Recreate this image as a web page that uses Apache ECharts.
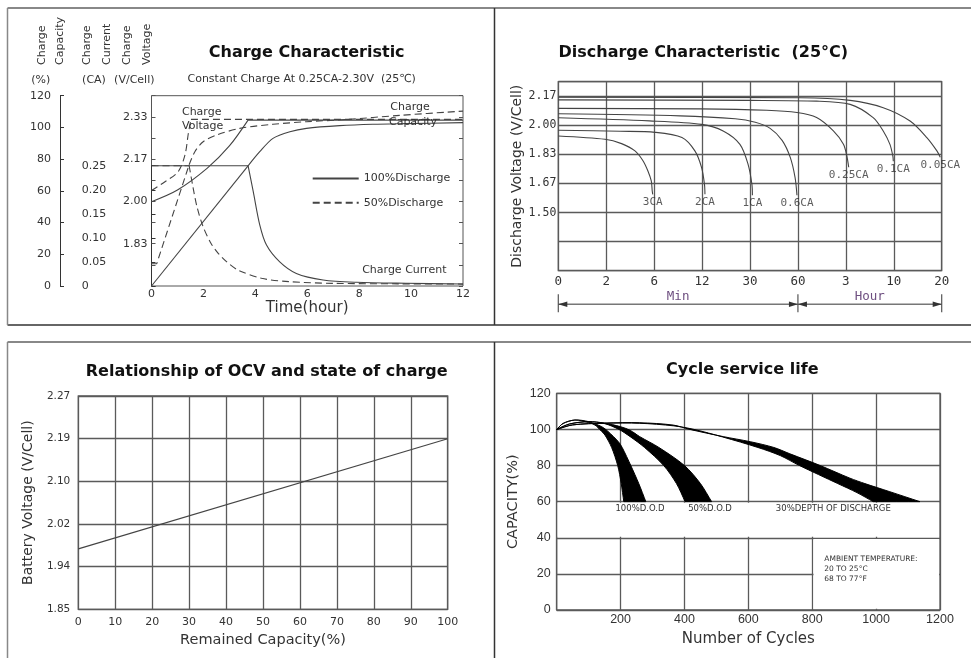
<!DOCTYPE html>
<html><head><meta charset="utf-8">
<script src="https://cdn.jsdelivr.net/npm/echarts@6/dist/echarts.min.js"></script>
<style>html,body{margin:0;padding:0;background:#fff}#c{width:971px;height:658px}</style>
</head><body><div id="c"></div>
<script>
// ---------- Charge characteristic (x: hours) ----------
const chargeVoltTickLabels = ['', '', '1.83', '', '2.00', '', '2.17', '', '2.33', ''];
const chargeVolt100 = [[0,1.999],[1.0,2.046],[2.15,2.134],[3.0,2.223],[3.72,2.327]];
const chargeVolt100Hold = [[3.72,2.327],[12,2.327]];
const chargeVolt50 = [[0,2.044],[0.52,2.079],[1.03,2.12],[1.29,2.187],[1.42,2.274],[1.52,2.33]];
const chargeVolt50Hold = [[1.52,2.33],[12,2.33]];
const chargeCap100Ramp = [[0,0],[3.72,75.8]];
const chargeCap100 = [[3.72,75.8],[4.17,84.7],[4.68,93.1],[5.33,97.3],[5.97,99.4],[7.25,101.1],[8.53,102.0],[9.81,102.4],[12,103.0]];
const chargeCap50Ramp = [[0,14],[0.2,14],[1.45,76.5]];
const chargeCap50 = [[1.45,76.5],[1.67,84.7],[1.99,91],[2.51,95.2],[3.4,99.4],[4.68,102],[5.97,103.6],[7.5,105],[9.56,107.6],[12,110.3]];
const chargeCur100Hold = [[0,0.25],[3.72,0.25]];
const chargeCur100 = [[3.72,0.25],[3.92,0.196],[4.17,0.127],[4.43,0.085],[4.94,0.05],[5.58,0.026],[6.61,0.0125],[7.9,0.0077],[9.8,0.0056],[12,0.0042]];
const chargeCur50Hold = [[0,0.25],[1.45,0.25]];
const chargeCur50 = [[1.45,0.25],[1.6,0.205],[1.75,0.165],[1.99,0.123],[2.3,0.088],[2.57,0.068],[2.9,0.05],[3.34,0.033],[4.24,0.016],[5.3,0.009],[7,0.0055],[9.5,0.0045],[12,0.004]];

// ---------- Discharge characteristic (x: tick position on the min|hour scale) ----------
const dischargeTimeTicks = ['0','2','6','12','30','60','3','10','20'];
const dischargeVoltTickLabels = ['', '', '1.50', '1.67', '1.83', '2.00', '2.17'];
const dischargeRates = ['3CA','2CA','1CA','0.6CA','0.25CA','0.1CA','0.05CA'];
const dis3CA = [[0,1.941],[0.975,1.922],[1.32,1.897],[1.60,1.855],[1.77,1.797],[1.87,1.739],[1.94,1.682],[1.96,1.624],[1.97,1.605]];
const dis2CA = [[0,1.974],[1.29,1.968],[2.02,1.962],[2.58,1.932],[2.85,1.855],[2.99,1.759],[3.05,1.663],[3.06,1.605]];
const dis1CA = [[0,2.046],[1.9,2.028],[2.99,2.008],[3.44,1.97],[3.79,1.893],[3.96,1.778],[4.04,1.663],[4.05,1.6]];
const dis06CA = [[0,2.069],[2.54,2.057],[3.69,2.040],[4.11,2.020],[4.42,1.985],[4.67,1.916],[4.84,1.818],[4.94,1.703],[4.98,1.60]];
const dis025CA = [[0,2.100],[2.96,2.097],[4.35,2.089],[4.98,2.076],[5.39,2.047],[5.74,1.970],[5.95,1.893],[6.02,1.826],[6.06,1.761]];
const dis01CA = [[0,2.149],[4.0,2.146],[5.39,2.142],[6.09,2.123],[6.57,2.047],[6.78,1.970],[6.92,1.893],[6.98,1.826],[6.99,1.795]];
const dis005CA = [[0,2.164],[5.04,2.161],[6.09,2.146],[6.78,2.104],[7.34,2.027],[7.69,1.932],[7.90,1.855],[7.97,1.818]];
const dischargeCurves = [dis3CA, dis2CA, dis1CA, dis06CA, dis025CA, dis01CA, dis005CA];

// ---------- OCV vs state of charge ----------
const ocvVoltTickLabels = ['1.85','1.94','2.02','2.10','2.19','2.27'];
const ocvLine = [[0,1.969],[100,2.186]];

// ---------- Cycle service life (cycles, capacity %) ----------
const life100Upper = [[0,100],[20,103.3],[57,105.2],[100,104.3],[141,101.5],[160,99],[193,93.2],[205,90],[232,80],[257,70],[279,60]];
const life100Lower = [[0,100],[20,103.3],[57,105.2],[100,103.8],[120,102.4],[140,99],[151,96.9],[172,90],[191,80],[202,70],[210,60]];
const life50Upper = [[0,100],[40,103],[100,104.3],[150,103.5],[200,101.5],[230,99.5],[260,96],[320,90],[400,80],[450,70],[485,60]];
const life50Lower = [[0,100],[40,103],[100,104.3],[150,103.2],[195,100],[230,96],[275,90],[335,80],[375,70],[402,60]];
const life30Upper = [[0,100],[50,102.5],[150,103.5],[260,103.7],[365,102.4],[417,100],[522,96],[606,93.2],[680,90],[730,86.5],[825,80],[918,73],[965,70],[1043,65.5],[1137,60]];
const life30Lower = [[0,100],[50,102.5],[150,103.4],[260,103.4],[365,102],[430,100],[520,95.8],[630,90],[700,85.5],[760,80],[880,70],[940,65],[991,60]];

const FONT = 'DejaVu Sans';
const MONO = 'DejaVu Sans Mono';
const ink = '#333';
const gl = '#5a5a5a';
const curve = '#444';

function ln(name, data, xi, yi, dashed, smooth) {
  return {type:'line', name, data, xAxisIndex:xi, yAxisIndex:yi, symbol:'none', smooth: smooth || false,
    clip:false, silent:true, z:3,
    lineStyle:{color:curve, width:1.1, type: dashed ? [7,4] : 'solid'}, itemStyle:{color:curve}};
}
function band(upper, lower) {
  return {type:'custom', xAxisIndex:4, yAxisIndex:9, clip:false, silent:true, z:3, data:[[0,0]],
    renderItem:(params, api) => {
      const up = upper.map(p => api.coord(p));
      const lo = lower.slice().reverse().map(p => api.coord(p));
      const pts = up.concat([up[up.length-1]], [lo[0]], lo);
      return {type:'polygon', shape:{points:pts, smooth:0.3}, style:{fill:'#000', stroke:'#000', lineWidth:1}};
    }};
}
const lbl = (o) => Object.assign({fontFamily:FONT, fontSize:11, color:ink}, o);

const series = [
  ln('100%Discharge', chargeVolt100, 0, 0, false, 0.3),
  ln('50%Discharge', chargeVolt50, 0, 0, true, 0.3),
  ln('50%Discharge', chargeVolt50Hold, 0, 0, true, 0),
  ln('100%Discharge', chargeVolt100Hold, 0, 0, false, 0),
  ln('100%Discharge', chargeCap100Ramp, 0, 3, false, 0),
  ln('100%Discharge', chargeCap100, 0, 3, false, 0.3),
  ln('50%Discharge', chargeCap50Ramp, 0, 3, true, 0),
  ln('50%Discharge', chargeCap50, 0, 3, true, 0.3),
  ln('100%Discharge', chargeCur100Hold, 1, 4, false, 0),
  ln('100%Discharge', chargeCur100, 1, 4, false, 0.3),
  ln('50%Discharge', chargeCur50Hold, 1, 4, true, 0),
  ln('50%Discharge', chargeCur50, 1, 4, true, 0.3)
];
dischargeCurves.forEach((c, i) => series.push(ln(dischargeRates[i], c, 2, 5, false, 0.3)));
series.push({type:'scatter', xAxisIndex:2, yAxisIndex:5, symbolSize:1, silent:true, z:4,
  itemStyle:{color:'rgba(0,0,0,0)'},
  data: dischargeCurves.map((c, i) => ({value:c[c.length-1], name:dischargeRates[i]})),
  label:{show:true, position:'bottom', distance:2, formatter:'{b}', fontFamily:MONO, fontSize:11, color:ink}});
series.push(ln('OCV', ocvLine, 3, 7, false, 0));
series.push({type:'line', xAxisIndex:4, yAxisIndex:9, data:[], silent:true, z:2,
  markArea:{silent:true, itemStyle:{color:'#fff'}, label:{show:false},
    data:[[{coord:[3,40.6]},{coord:[1197,59.4]}],[{coord:[804,0.7]},{coord:[1197,39.3]}]]}});
series.push(band(life100Upper, life100Lower));
series.push(band(life50Upper, life50Lower));
series.push(band(life30Upper, life30Lower));

const option = {
  animation:false,
  textStyle:{fontFamily:FONT, color:ink},
  grid:[
    {left:151.5, top:95.7, width:311.5, height:190.3, show:true, borderColor:'#555', borderWidth:1},
    {left:151.5, top:165.7, width:311.5, height:120.3, show:false},
    {left:558.3, top:81.7, width:383.4, height:189, show:true, borderColor:gl, borderWidth:1.3},
    {left:78.3, top:396, width:369.4, height:213.3, show:true, borderColor:gl, borderWidth:1.3},
    {left:556.7, top:393.3, width:383.3, height:216.7, show:true, borderColor:gl, borderWidth:1.3}
  ],
  legend:{data:['100%Discharge','50%Discharge'], orient:'vertical', left:311.7, top:173, padding:0,
    itemWidth:46, itemHeight:14, itemGap:13, selectedMode:false,
    itemStyle:{opacity:0, borderWidth:0},
    textStyle:{fontFamily:FONT, fontSize:11, color:ink}},
  xAxis:[
    {gridIndex:0, type:'value', min:0, max:12, interval:2, axisLine:{show:false}, axisTick:{show:false},
      splitLine:{show:false}, axisLabel:lbl({margin:3}),
      name:'Time(hour)', nameLocation:'middle', nameGap:15, nameTextStyle:{fontFamily:FONT, fontSize:15, color:ink}},
    {gridIndex:1, type:'value', min:0, max:12, show:false},
    {gridIndex:2, type:'value', min:0, max:8, interval:1, axisLine:{show:false}, axisTick:{show:false},
      splitLine:{show:true, lineStyle:{color:gl, width:1.3}},
      axisLabel:lbl({fontFamily:MONO, fontSize:12.5, margin:5, formatter:v => dischargeTimeTicks[Math.round(v)] ?? ''})},
    {gridIndex:3, type:'value', min:0, max:100, interval:10, axisLine:{show:false}, axisTick:{show:false},
      splitLine:{show:true, lineStyle:{color:gl, width:1.3}}, axisLabel:lbl({margin:7}),
      name:'Remained Capacity(%)', nameLocation:'middle', nameGap:23, nameTextStyle:{fontFamily:FONT, fontSize:14.5, color:ink}},
    {gridIndex:4, type:'value', min:0, max:1200, interval:200, axisLine:{show:false}, axisTick:{show:false},
      splitLine:{show:true, lineStyle:{color:gl, width:1.3}},
      axisLabel:lbl({fontFamily:'Liberation Sans', fontSize:12.5, margin:3, formatter:v => v === 0 ? '' : String(v)}),
      name:'Number of Cycles', nameLocation:'middle', nameGap:22, nameTextStyle:{fontFamily:FONT, fontSize:15, color:ink}}
  ],
  yAxis:[
    {gridIndex:0, type:'value', min:1.66, max:2.425, show:false, position:'right'},
    {gridIndex:0, type:'value', min:0, max:9, interval:1, position:'left', axisLine:{show:false},
      axisTick:{show:true, inside:true, length:4, lineStyle:{color:'#555'}}, splitLine:{show:false},
      axisLabel:lbl({margin:4, formatter:v => chargeVoltTickLabels[Math.round(v)] || ''})},
    {gridIndex:0, type:'value', min:0, max:9, interval:1, position:'right', axisLine:{show:false},
      axisTick:{show:true, inside:true, length:4, lineStyle:{color:'#555'}}, axisLabel:{show:false}, splitLine:{show:false}},
    {gridIndex:0, type:'value', min:0, max:120, interval:20, position:'left', offset:91.5,
      axisLine:{show:true, lineStyle:{color:'#333'}}, axisTick:{show:true, inside:true, length:4, lineStyle:{color:'#333'}},
      splitLine:{show:false}, axisLabel:lbl({margin:9})},
    {gridIndex:1, type:'value', min:0, max:0.25, interval:0.05, position:'left', offset:43.2,
      axisLine:{show:true, lineStyle:{color:'#333'}}, axisTick:{show:true, inside:true, length:4, lineStyle:{color:'#333'}},
      splitLine:{show:false}, axisLabel:lbl({align:'left', margin:26.5, formatter:v => v === 0 ? '0' : v.toFixed(2)})},
    {gridIndex:2, type:'value', min:1.165, max:2.25375, show:false, position:'right'},
    {gridIndex:2, type:'value', min:0, max:6.5, interval:1, position:'left', axisLine:{show:false}, axisTick:{show:false},
      splitLine:{show:true, lineStyle:{color:gl, width:1.3}},
      axisLabel:lbl({fontFamily:MONO, fontSize:11.5, margin:2, formatter:v => dischargeVoltTickLabels[Math.round(v)] ?? ''}),
      name:'Discharge Voltage (V/Cell)', nameLocation:'middle', nameGap:33, nameTextStyle:{fontFamily:FONT, fontSize:14, color:ink}},
    {gridIndex:3, type:'value', min:1.85, max:2.27, show:false, position:'right'},
    {gridIndex:3, type:'value', min:0, max:5, interval:1, position:'left', axisLine:{show:false}, axisTick:{show:false},
      splitLine:{show:true, lineStyle:{color:gl, width:1.3}},
      axisLabel:lbl({fontSize:10.5, margin:8, formatter:v => ocvVoltTickLabels[Math.round(v)] ?? ''}),
      name:'Battery Voltage (V/Cell)', nameLocation:'middle', nameGap:43, nameTextStyle:{fontFamily:FONT, fontSize:14, color:ink}},
    {gridIndex:4, type:'value', min:0, max:120, interval:20, position:'left', axisLine:{show:false}, axisTick:{show:false},
      splitLine:{show:true, lineStyle:{color:gl, width:1.3}},
      axisLabel:lbl({fontFamily:'Liberation Sans', fontSize:12.5, margin:6}),
      name:'CAPACITY(%)', nameLocation:'middle', nameGap:36, nameTextStyle:{fontFamily:FONT, fontSize:14.5, color:ink}}
  ],
  series
};

const chart = echarts.init(document.getElementById('c'));
chart.setOption(option);

function T(text, x, y, o = {}) {
  const a = o.align || 'center', v = o.valign || 'middle';
  return {type:'text', x, y, rotation:o.rot || 0, silent:true, z:10,
    style:{text, fill:o.color || ink, font:o.font || ('11px "' + FONT + '"'),
      align:a, verticalAlign:v, textAlign:a, textVerticalAlign:v}};
}
function L(x1, y1, x2, y2, stroke, w) {
  return {type:'line', silent:true, z:10, shape:{x1, y1, x2, y2}, style:{stroke, lineWidth:w}};
}
function P(points, fill) {
  return {type:'polygon', silent:true, z:10, shape:{points}, style:{fill}};
}
const bold16 = 'bold 16px "' + FONT + '"';
const R = Math.PI / 2;
const xd = u => chart.convertToPixel({xAxisIndex:2}, u);
const yb = chart.convertToPixel({yAxisIndex:6}, 0);
const x0 = xd(0), x5 = xd(5), x8 = xd(8);
const yd = yb + 33.6;
const ah = 9, aw = 2.8;
const purple = '#6e4f80';

const els = [
  L(7.5, 8, 971, 8, '#888', 2), L(7.5, 325, 971, 325, '#666', 2), L(7.5, 8, 7.5, 325, '#888', 1.5),
  L(494.5, 8, 494.5, 325, '#333', 1.5),
  L(7.5, 342, 971, 342, '#888', 2), L(7.5, 342, 7.5, 658, '#888', 1.5), L(494.5, 342, 494.5, 658, '#333', 1.5),
  T('Charge Characteristic', 306.7, 52.7, {font:bold16, color:'#111'}),
  T('Constant Charge At 0.25CA-2.30V  (25\u2103)', 301.7, 79),
  T('Charge', 42.5, 65, {rot:R, align:'left'}), T('Capacity', 60.5, 65, {rot:R, align:'left'}),
  T('Charge', 87.5, 65, {rot:R, align:'left'}), T('Current', 107, 65, {rot:R, align:'left'}),
  T('Charge', 127.5, 65, {rot:R, align:'left'}), T('Voltage', 147, 65, {rot:R, align:'left'}),
  T('(%)', 40.7, 80), T('(CA)', 94, 80), T('(V/Cell)', 134.3, 80),
  T('Charge', 201.7, 111.7), T('Voltage', 202.7, 126),
  T('Charge', 410, 107.3), T('Capacity', 413, 122.3),
  T('Charge Current', 404.3, 270),
  T('Discharge Characteristic  (25\u00B0C)', 703.3, 53.3, {font:bold16, color:'#111'}),
  L(x0, yd, x8, yd, '#777', 1.5),
  L(x0, yd - 10, x0, yd + 8, '#555', 1.2), L(x5, yd - 10, x5, yd + 8, '#555', 1.2), L(x8, yd - 10, x8, yd + 8, '#555', 1.2),
  P([[x0, yd], [x0 + ah, yd - aw], [x0 + ah, yd + aw]], '#333'),
  P([[x5, yd], [x5 - ah, yd - aw], [x5 - ah, yd + aw]], '#333'),
  P([[x5, yd], [x5 + ah, yd - aw], [x5 + ah, yd + aw]], '#333'),
  P([[x8, yd], [x8 - ah, yd - aw], [x8 - ah, yd + aw]], '#333'),
  T('Min', (x0 + x5) / 2, yb + 26, {font:'12.5px "' + MONO + '"', color:purple}),
  T('Hour', (x5 + x8) / 2, yb + 26, {font:'12.5px "' + MONO + '"', color:purple}),
  T('Relationship of OCV and state of charge', 266.7, 371.7, {font:bold16, color:'#111'}),
  T('Cycle service life', 742.3, 370, {font:bold16, color:'#111'}),
  T('100%D.O.D', 640, 508.3, {font:'8.5px "' + FONT + '"'}),
  T('50%D.O.D', 710, 508.3, {font:'8.5px "' + FONT + '"'}),
  T('30%DEPTH OF DISCHARGE', 833.3, 508.3, {font:'8.5px "' + FONT + '"'}),
  T('AMBIENT TEMPERATURE:', 824.3, 559.3, {font:'7.5px "' + FONT + '"', align:'left'}),
  T('20 TO 25\u00B0C', 824.3, 569.5, {font:'7.5px "' + FONT + '"', align:'left'}),
  T('68 TO 77\u00B0F', 824.3, 579.3, {font:'7.5px "' + FONT + '"', align:'left'})
];
chart.setOption({graphic:{elements:els}});
</script>
</body></html>
